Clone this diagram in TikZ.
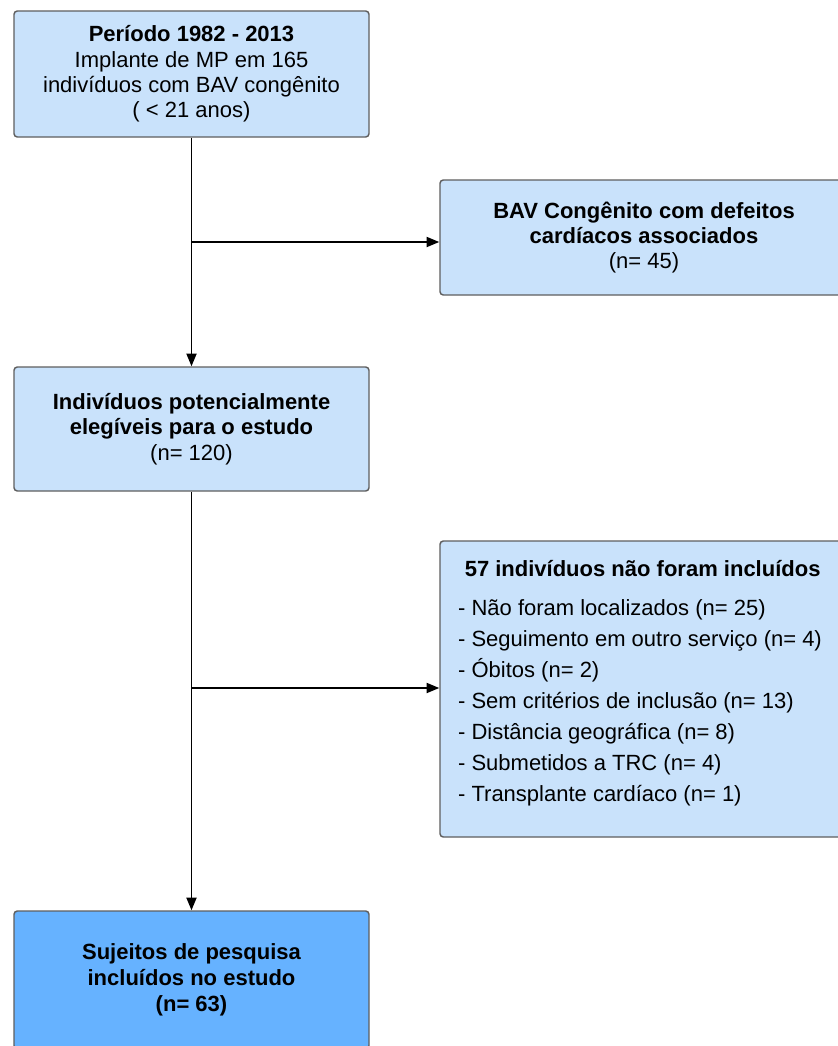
\documentclass[tikz,border=0pt]{standalone}
\usepackage{fontspec}
\setmainfont{Liberation Sans}
\usetikzlibrary{arrows.meta}
\definecolor{azulclaro}{RGB}{201,226,251}
\definecolor{azulforte}{RGB}{102,178,255}
\definecolor{borda}{RGB}{95,95,95}

\begin{document}
\begin{tikzpicture}[x=0.75pt,y=-0.75pt]
	\tikzset{caixa/.style = {shape=rectangle, draw=borda, line width=1.1pt, rounded corners=2.5pt, fill=azulclaro, align=center, inner sep=0pt, font=\fontsize{16.5}{19}\selectfont}}
	\tikzset{lista/.style = {align=left, inner sep=0pt, font=\fontsize{16.5}{23.25}\selectfont}}
	\tikzset{seta/.style = {line width=1.4pt, -{Triangle[length=9.5pt,width=7.5pt]}}}

	\useasboundingbox (0,0) rectangle (838,1046);
	\path[fill=white] (0,0) rectangle (838,1046);

	\node[caixa, minimum width=266.25pt, minimum height=94.5pt] (etapa_1) at (191.5,74) {\textbf{Período 1982 - 2013}\\Implante de MP em 165\\indivíduos com BAV congênito\\( < 21 anos)};
	\node[caixa, minimum width=306pt, minimum height=86.25pt] (etapa_2) at (644,237.5) {\textbf{BAV Congênito com defeitos}\\\textbf{cardíacos associados}\\(n= 45)};
	\node[caixa, minimum width=266.25pt, minimum height=93pt] (etapa_3) at (191.5,429) {\textbf{Indivíduos potencialmente}\\\textbf{elegíveis para o estudo}\\(n= 120)};
	\node[caixa, minimum width=306pt, minimum height=222pt] (etapa_4) at (644,689) {};
	\node[lista] (lista_4) at (640,683) {\hspace*{5pt}\textbf{57 indivíduos não foram incluídos}\\[6pt]- Não foram localizados (n= 25)\\- Seguimento em outro serviço (n= 4)\\- Óbitos (n= 2)\\- Sem critérios de inclusão (n= 13)\\- Distância geográfica (n= 8)\\- Submetidos a TRC (n= 4)\\- Transplante cardíaco (n= 1)};
	\node[caixa, fill=azulforte, minimum width=266.25pt, minimum height=103.5pt, font=\fontsize{16.5}{19.5}\selectfont\bfseries] (etapa_5) at (191.5,980) {Sujeitos de pesquisa\\incluídos no estudo\\(n= 63)};

	\coordinate (ramo_1) at (191.5,242);
	\coordinate (ramo_2) at (191.5,688);

	\draw[seta] (etapa_1)--(etapa_3);
	\draw[seta] (etapa_3)--(etapa_5);
	\draw[seta] (ramo_1)--(ramo_1 -| etapa_2.west);
	\draw[seta] (ramo_2)--(ramo_2 -| etapa_4.west);

\end{tikzpicture}
\end{document}
